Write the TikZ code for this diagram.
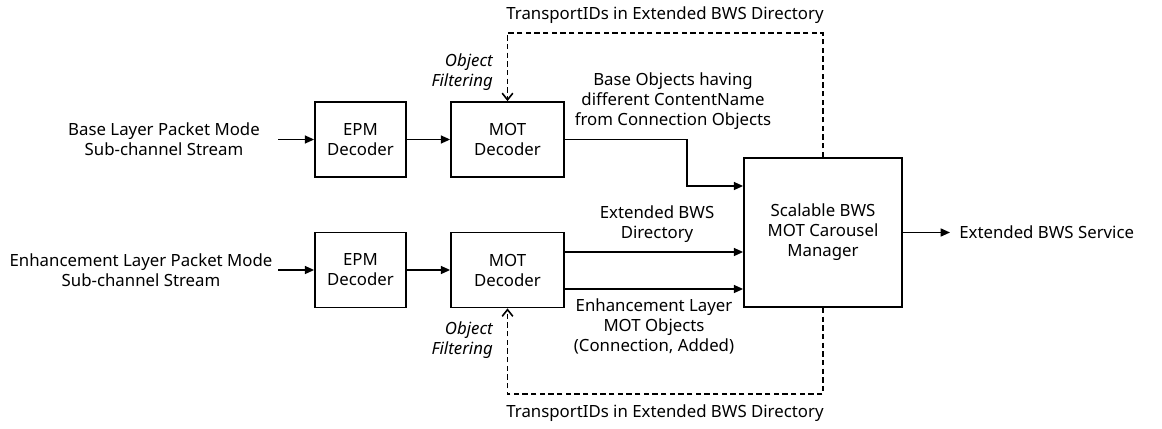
\documentclass[tikz,border=0pt]{standalone}
\usepackage{fontspec}
\setmainfont{Noto Sans}
\usetikzlibrary{arrows.meta}
\begin{document}
\begin{tikzpicture}[x=0.75pt,y=-0.75pt,
  box/.style={draw,line width=1.3pt,align=center,inner sep=0pt},
  lbl/.style={align=center,inner sep=0pt},
  ital/.style={align=right,inner sep=0pt,font=\fontsize{12.6}{15}\selectfont\itshape},
  arr/.style={line width=1.2pt,-{Triangle[length=7pt,width=6pt]}},
  darr/.style={line width=1.2pt,dash pattern=on 4pt off 2.5pt,-{Straight Barb[length=5pt,width=8pt]}},
  every node/.style={font=\fontsize{12.6}{15}\selectfont}]
\useasboundingbox (0,0) rectangle (1162,428);
% boxes
\node[box,minimum width=68.25pt,minimum height=56.25pt] (epm1) at (360.5,139.5) {EPM\\Decoder};
\node[box,minimum width=84.75pt,minimum height=56.25pt] (mot1) at (507.5,139.5) {MOT\\Decoder};
\node[box,minimum width=68.25pt,minimum height=56.25pt] (epm2) at (360.5,270) {EPM\\Decoder};
\node[box,minimum width=84.75pt,minimum height=56.25pt] (mot2) at (507.5,270) {MOT\\Decoder};
\node[box,minimum width=118.5pt,minimum height=111.75pt] (mgr) at (823,232.5) {Scalable BWS\\MOT Carousel\\Manager};
% input labels
\node[lbl] (in1l) at (164,139) {Base Layer Packet Mode\\Sub-channel Stream};
\node[lbl] (in2l) at (141,270) {Enhancement Layer Packet Mode\\Sub-channel Stream};
\coordinate (in1) at (278,139.5);
\coordinate (in2) at (278,270);
\draw[arr] (in1) -- (epm1);
\draw[arr] (in2) -- (epm2);
\draw[arr] (epm1) -- (mot1);
\draw[arr] (epm2) -- (mot2);
% base objects path
\coordinate (b1) at (687,186);
\draw[arr] (mot1.east) -| (b1) -- (b1 -| mgr.west);
\node[lbl] (bol) at (673,101.5) {Base Objects having\\different ContentName\\from Connection Objects};
% enhancement outputs
\draw[arr] (mot2.east |- 0,252) -- (mgr.west |- 0,252);
\draw[arr] (mot2.east |- 0,289) -- (mgr.west |- 0,289);
\node[lbl] (edl) at (657,224.5) {Extended BWS\\Directory};
\node[lbl] (eml) at (654,326) {Enhancement Layer\\MOT Objects\\(Connection, Added)};
% dashed feedback
\coordinate (t1) at (823,33);
\coordinate (t2) at (823,394);
\draw[darr] (mgr.north) -- (t1) -| (mot1.north);
\draw[darr] (mgr.south) -- (t2) -| (mot2.south);
\node[lbl] (tl1) at (665,15) {TransportIDs in Extended BWS Directory};
\node[lbl] (tl2) at (665,413) {TransportIDs in Extended BWS Directory};
\node[ital,anchor=east] (of1) at (493,72) {Object\\Filtering};
\node[ital,anchor=east] (of2) at (493,340) {Object\\Filtering};
% output
\coordinate (o1) at (950,232.5);
\draw[arr] (mgr.east) -- (o1);
\node[lbl,anchor=west] (outl) at (959,232.5) {Extended BWS Service};
\end{tikzpicture}
\end{document}
